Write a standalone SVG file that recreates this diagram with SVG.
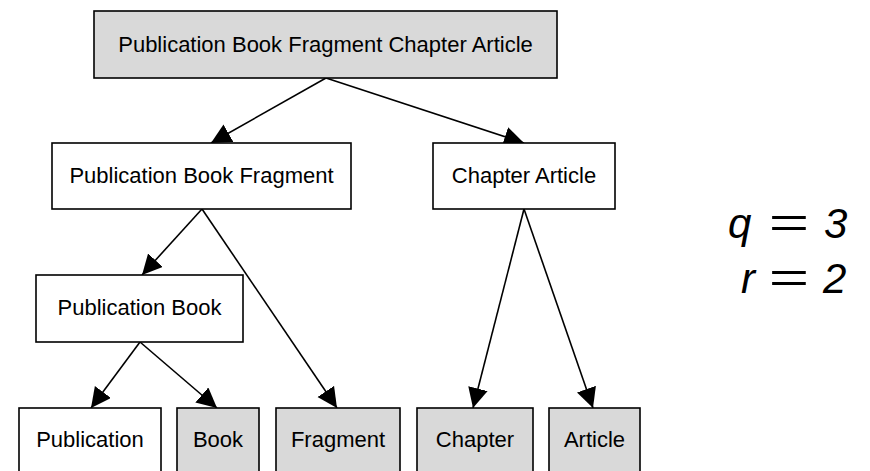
<svg xmlns="http://www.w3.org/2000/svg" width="870" height="471" viewBox="0 0 870 471">
  <style>
    .box { stroke: #000; stroke-width: 1.6; }
    .grey { fill: #d9d9d9; }
    .white { fill: #fff; }
    .lbl { font-family: "Liberation Sans", Arial, sans-serif; font-size: 22px; fill: #000; text-anchor: middle; }
    .edge { stroke: #000; stroke-width: 1.6; fill: none; marker-end: url(#arrow); }
    .eq { font-family: "Liberation Sans", Arial, sans-serif; font-size: 42px; fill: #000; }
    .it { font-style: italic; }
  </style>
  <defs>
    <marker id="arrow" markerUnits="userSpaceOnUse" markerWidth="22" markerHeight="22" refX="20" refY="10" orient="auto">
      <path d="M0,0 L20,10 L0,20 z" fill="#000"/>
    </marker>
  </defs>
  <rect width="870" height="471" fill="#fff"/>

  <g id="connectors">
    <line class="edge" x1="326" y1="78" x2="211" y2="143"/>
    <line class="edge" x1="326" y1="78" x2="524" y2="143"/>
    <line class="edge" x1="202" y1="209" x2="142" y2="275"/>
    <line class="edge" x1="202" y1="209" x2="337" y2="408"/>
    <line class="edge" x1="140" y1="342" x2="91" y2="408"/>
    <line class="edge" x1="140" y1="342" x2="217" y2="408"/>
    <line class="edge" x1="524" y1="209" x2="473" y2="408"/>
    <line class="edge" x1="524" y1="209" x2="593" y2="408"/>
  </g>

  <g id="n-all">
    <rect class="box grey" x="94" y="11" width="463" height="67"/>
    <text class="lbl" x="325.5" y="52">Publication Book Fragment Chapter Article</text>
  </g>
  <g id="n-pbf">
    <rect class="box white" x="52" y="143" width="299" height="66"/>
    <text class="lbl" x="201.5" y="183">Publication Book Fragment</text>
  </g>
  <g id="n-ca">
    <rect class="box white" x="433" y="143" width="182" height="66"/>
    <text class="lbl" x="524" y="183">Chapter Article</text>
  </g>
  <g id="n-pb">
    <rect class="box white" x="36" y="275" width="207" height="67"/>
    <text class="lbl" x="139.5" y="315">Publication Book</text>
  </g>
  <g id="n-publication">
    <rect class="box white" x="19" y="408" width="142" height="70"/>
    <text class="lbl" x="90" y="447">Publication</text>
  </g>
  <g id="n-book">
    <rect class="box grey" x="177" y="408" width="82" height="70"/>
    <text class="lbl" x="218" y="447">Book</text>
  </g>
  <g id="n-fragment">
    <rect class="box grey" x="276" y="408" width="124" height="70"/>
    <text class="lbl" x="338" y="447">Fragment</text>
  </g>
  <g id="n-chapter">
    <rect class="box grey" x="417" y="408" width="116" height="70"/>
    <text class="lbl" x="475" y="447">Chapter</text>
  </g>
  <g id="n-article">
    <rect class="box grey" x="549" y="408" width="91" height="70"/>
    <text class="lbl" x="594.5" y="447">Article</text>
  </g>

  <g id="params">
    <text class="eq it" x="728" y="238">q</text>
    <text class="eq" text-anchor="middle" transform="translate(789,237) scale(1.65,1)">=</text>
    <text class="eq it" x="824" y="238">3</text>
    <text class="eq it" x="741" y="293">r</text>
    <text class="eq" text-anchor="middle" transform="translate(789,292) scale(1.65,1)">=</text>
    <text class="eq it" x="823" y="293">2</text>
  </g>
</svg>
